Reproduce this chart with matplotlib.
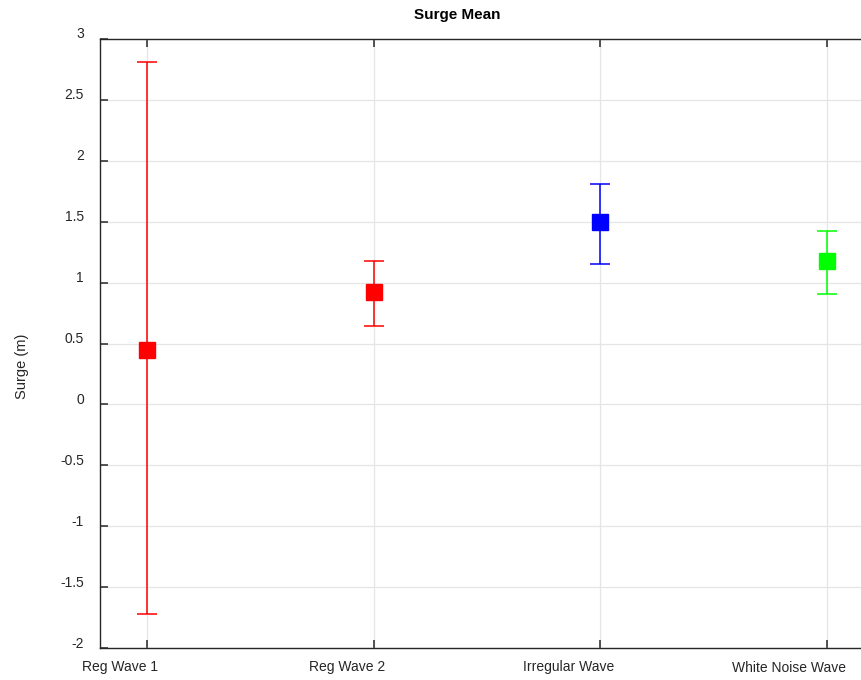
import matplotlib

matplotlib.use("Agg")
import matplotlib.pyplot as plt
from matplotlib.transforms import ScaledTranslation

plt.rcParams["font.family"] = ["Liberation Sans", "DejaVu Sans"]

# --- data -----------------------------------------------------------------------
cases = ["Reg Wave 1", "Reg Wave 2", "Irregular Wave", "White Noise Wave"]
surge_mean = [0.45, 0.925, 1.495, 1.175]
surge_upper = [2.81, 1.18, 1.81, 1.425]
surge_lower = [-1.72, 0.64, 1.15, 0.905]
colors = ["#ff0000", "#ff0000", "#0000ff", "#00ff00"]

yticks = [3, 2.5, 2, 1.5, 1, 0.5, 0, -0.5, -1, -1.5, -2]

# label nudges in pixels (the exported labels sit off their ticks)
xlabel_dx = [-27, -26, -32, -38]
ylabel_dy = 6

# --- figure -----------------------------------------------------------------------
W, H = 862, 680
DPI = 100
fig = plt.figure(figsize=(W / DPI, H / DPI), dpi=DPI)
ax = fig.add_axes([100 / W, 32 / H, 771 / W, 609 / H])

dark = "#262626"
xs = range(1, len(cases) + 1)
for x, m, hi, lo, c in zip(xs, surge_mean, surge_upper, surge_lower, colors):
    ax.errorbar(
        x, m, yerr=[[m - lo], [hi - m]],
        fmt="s", color=c, ecolor=c, mfc=c, mec=c,
        ms=11.5, elinewidth=1.1, capsize=7, capthick=1.1, zorder=3,
    )

ax.set_xlim(0.793, 4.195)
ax.set_ylim(-2, 3)
ax.set_xticks(list(xs))
ax.set_xticklabels(cases)
ax.set_yticks(yticks)
ax.set_yticklabels([f"{v:g}" for v in yticks])

ax.grid(True, color="#e5e5e5", lw=0.9)
ax.set_axisbelow(True)
for sp in ax.spines.values():
    sp.set_color(dark)
    sp.set_linewidth(1.0)

ax.tick_params(axis="both", direction="in", length=5.8, width=1.1,
               colors=dark, labelsize=10, top=True, right=True)
ax.tick_params(axis="y", pad=16 * 72 / DPI)
ax.tick_params(axis="x", pad=9)

for lab, dx in zip(ax.get_xticklabels(), xlabel_dx):
    lab.set_transform(lab.get_transform()
                      + ScaledTranslation(dx / DPI, 0, fig.dpi_scale_trans))
for lab in ax.get_yticklabels():
    lab.set_transform(lab.get_transform()
                      + ScaledTranslation(0, ylabel_dy / DPI, fig.dpi_scale_trans))

fig.text(457 / W, 1 - 15 / H, "Surge Mean", ha="center", va="center",
         fontsize=11, fontweight="bold", color="black")
fig.text(22 / W, 1 - 366 / H, "Surge (m)", ha="center", va="center",
         rotation=90, fontsize=10.5, color=dark)

fig.savefig("out.png", dpi=DPI)
